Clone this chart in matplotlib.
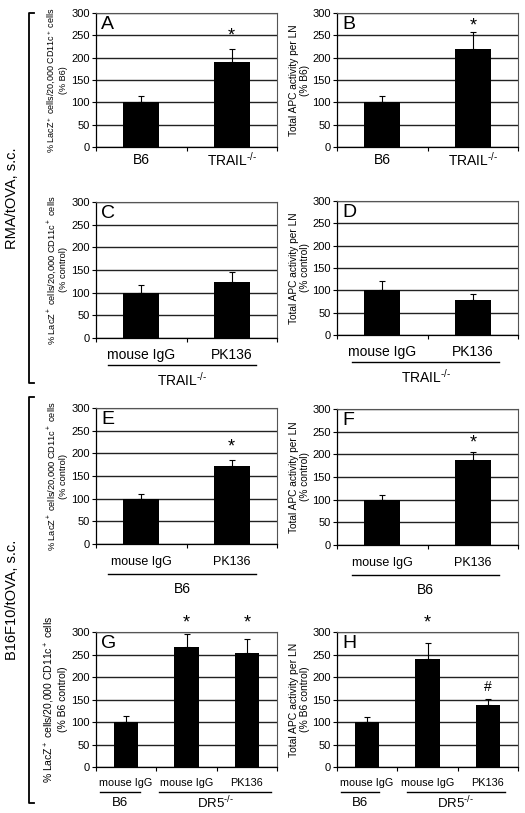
import matplotlib
matplotlib.use('Agg')
import matplotlib.pyplot as plt
from matplotlib.lines import Line2D
import matplotlib.transforms as mtransforms

plt.rcParams['font.family'] = ['Liberation Sans', 'DejaVu Sans']
plt.rcParams['mathtext.fontset'] = 'custom'
plt.rcParams['mathtext.rm'] = 'Liberation Sans'
plt.rcParams['mathtext.it'] = 'Liberation Sans:italic'

# ---- data ----
cats_A = ['B6', r'TRAIL$^{\text{-/-}}$']
vals_A = [100, 190]
err_A = [14, 30]

cats_B = ['B6', r'TRAIL$^{\text{-/-}}$']
vals_B = [100, 220]
err_B = [14, 37]

cats_C = ['mouse IgG', 'PK136']
vals_C = [100, 123]
err_C = [17, 22]

cats_D = ['mouse IgG', 'PK136']
vals_D = [100, 78]
err_D = [20, 13]

cats_E = ['mouse IgG', 'PK136']
vals_E = [100, 172]
err_E = [11, 13]

cats_F = ['mouse IgG', 'PK136']
vals_F = [100, 187]
err_F = [11, 18]

cats_G = ['mouse IgG', 'mouse IgG', 'PK136']
vals_G = [100, 267, 254]
err_G = [13, 29, 30]

cats_H = ['mouse IgG', 'mouse IgG', 'PK136']
vals_H = [100, 241, 137]
err_H = [12, 35, 15]

# significance marks: (bar index, symbol, y value)
marks_A = [(1, '*', 248)]
marks_B = [(1, '*', 272)]
marks_E = [(1, '*', 213)]
marks_F = [(1, '*', 226)]
marks_G = [(1, '*', 320), (2, '*', 320)]
marks_H = [(1, '*', 320), (2, '#', 178)]

lab_lacz = '% LacZ$^+$ cells/20,000 CD11c$^+$ cells'
lab_apc = 'Total APC activity per LN'
trail_ko = r'TRAIL$^{\text{-/-}}$'
dr5_ko = r'DR5$^{\text{-/-}}$'

W, H = 525, 813
fig = plt.figure(figsize=(W / 100, H / 100), dpi=100)


def make_ax(x0, top, bottom, w=181):
    return fig.add_axes([x0 / W, 1 - bottom / H, w / W, (bottom - top) / H])


def draw(ax, letter, cats, vals, errs, ylabel, ysize, lab_x, marks=(), catsize=10,
         lab_off=13, groups=(), line_off=27, grp_off=42, grpsize=10):
    n = len(cats)
    x = list(range(n))
    ax.set_axisbelow(True)
    ax.bar(x, vals, width=0.4, color='black', zorder=3)
    ax.errorbar(x, vals, yerr=[[0] * n, errs], fmt='none', ecolor='black',
                elinewidth=0.8, capsize=2.2, capthick=0.8, zorder=4)
    ax.set_xlim(-0.5, n - 0.5)
    ax.set_ylim(0, 300)
    ax.set_yticks(range(0, 301, 50))
    ax.yaxis.grid(True, color='#222222', lw=1.0)
    ax.tick_params(axis='y', labelsize=8, length=3, width=0.8, pad=1.5)
    ax.set_xticks([i - 0.5 for i in range(n + 1)])
    ax.set_xticklabels([])
    ax.tick_params(axis='x', length=3, width=0.8)
    for s in ['top', 'right']:
        ax.spines[s].set_color('#555555')
        ax.spines[s].set_linewidth(0.8)
    for s in ['left', 'bottom']:
        ax.spines[s].set_linewidth(0.9)
    ax.set_ylabel(ylabel, fontsize=ysize, linespacing=1.15)
    ax.yaxis.set_label_coords(lab_x, 0.5)
    ax.text(0.03, 0.975, letter, transform=ax.transAxes, fontsize=14,
            va='top', ha='left')
    trx = ax.get_xaxis_transform()
    for i, c in enumerate(cats):
        ax.annotate(c, xy=(i, 0), xycoords=trx, xytext=(0, -lab_off * 0.72),
                    textcoords='offset points', ha='center', va='center',
                    fontsize=catsize, annotation_clip=False)
    for (x1, x2, name) in groups:
        tr = mtransforms.offset_copy(trx, fig=fig, y=-line_off, units='dots')
        ax.plot([x1, x2], [0, 0], transform=tr, color='black', lw=1,
                clip_on=False)
        ax.annotate(name, xy=((x1 + x2) / 2, 0), xycoords=trx,
                    xytext=(0, -grp_off * 0.72), textcoords='offset points',
                    ha='center', va='center', fontsize=grpsize,
                    annotation_clip=False)
    for (i, sym, yv) in marks:
        ax.text(i, yv, sym, ha='center', va='center',
                fontsize=13 if sym == '*' else 10, clip_on=False)


LX, RX = 96, 337

axA = make_ax(LX, 13, 147)
draw(axA, 'A', cats_A, vals_A, err_A, lab_lacz + '\n(% B6)', 6.5, -0.155,
     marks=marks_A)
axB = make_ax(RX, 13, 147)
draw(axB, 'B', cats_B, vals_B, err_B, lab_apc + '\n(% B6)', 7.3, -0.15,
     marks=marks_B)

axC = make_ax(LX, 202, 338)
draw(axC, 'C', cats_C, vals_C, err_C, lab_lacz + '\n(% control)', 6.7, -0.155,
     lab_off=17, groups=[(-0.37, 1.27, trail_ko)])
axD = make_ax(RX, 201, 335)
draw(axD, 'D', cats_D, vals_D, err_D, lab_apc + '\n(% control)', 7.3, -0.15,
     lab_off=17, groups=[(-0.33, 1.29, trail_ko)])

axE = make_ax(LX, 408, 544)
draw(axE, 'E', cats_E, vals_E, err_E, lab_lacz + '\n(% control)', 6.7, -0.155,
     marks=marks_E, catsize=9, lab_off=18, groups=[(-0.37, 1.27, 'B6')],
     line_off=30, grp_off=45)
axF = make_ax(RX, 409, 545)
draw(axF, 'F', cats_F, vals_F, err_F, lab_apc + '\n(% control)', 7.3, -0.15,
     marks=marks_F, catsize=9, lab_off=18, groups=[(-0.33, 1.29, 'B6')],
     line_off=30, grp_off=45)

axG = make_ax(LX, 632, 767)
draw(axG, 'G', cats_G, vals_G, err_G, lab_lacz + '\n(% B6 control)', 7.5, -0.155,
     marks=marks_G, catsize=7.8, lab_off=16,
     groups=[(-0.43, 0.23, 'B6'), (0.55, 2.4, dr5_ko)],
     line_off=25, grp_off=36, grpsize=9.5)
axH = make_ax(RX, 632, 767)
draw(axH, 'H', cats_H, vals_H, err_H, lab_apc + '\n(% B6 control)', 7.5, -0.15,
     marks=marks_H, catsize=7.8, lab_off=16,
     groups=[(-0.43, 0.2, 'B6'), (0.66, 2.28, dr5_ko)],
     line_off=25, grp_off=36, grpsize=9.5)

# outer brackets and side labels
for (top, bottom, name) in [(13, 383, 'RMA/tOVA, s.c.'),
                            (397, 803, 'B16F10/tOVA, s.c.')]:
    xs = [34, 29, 29, 34]
    ys = [top, top, bottom, bottom]
    fig.add_artist(Line2D([v / W for v in xs], [1 - v / H for v in ys],
                          transform=fig.transFigure, color='black', lw=1.3))
    fig.text(12 / W, 1 - (top + bottom) / 2 / H, name, rotation=90,
             ha='center', va='center', fontsize=10.5)

fig.savefig('out.png', dpi=100)
